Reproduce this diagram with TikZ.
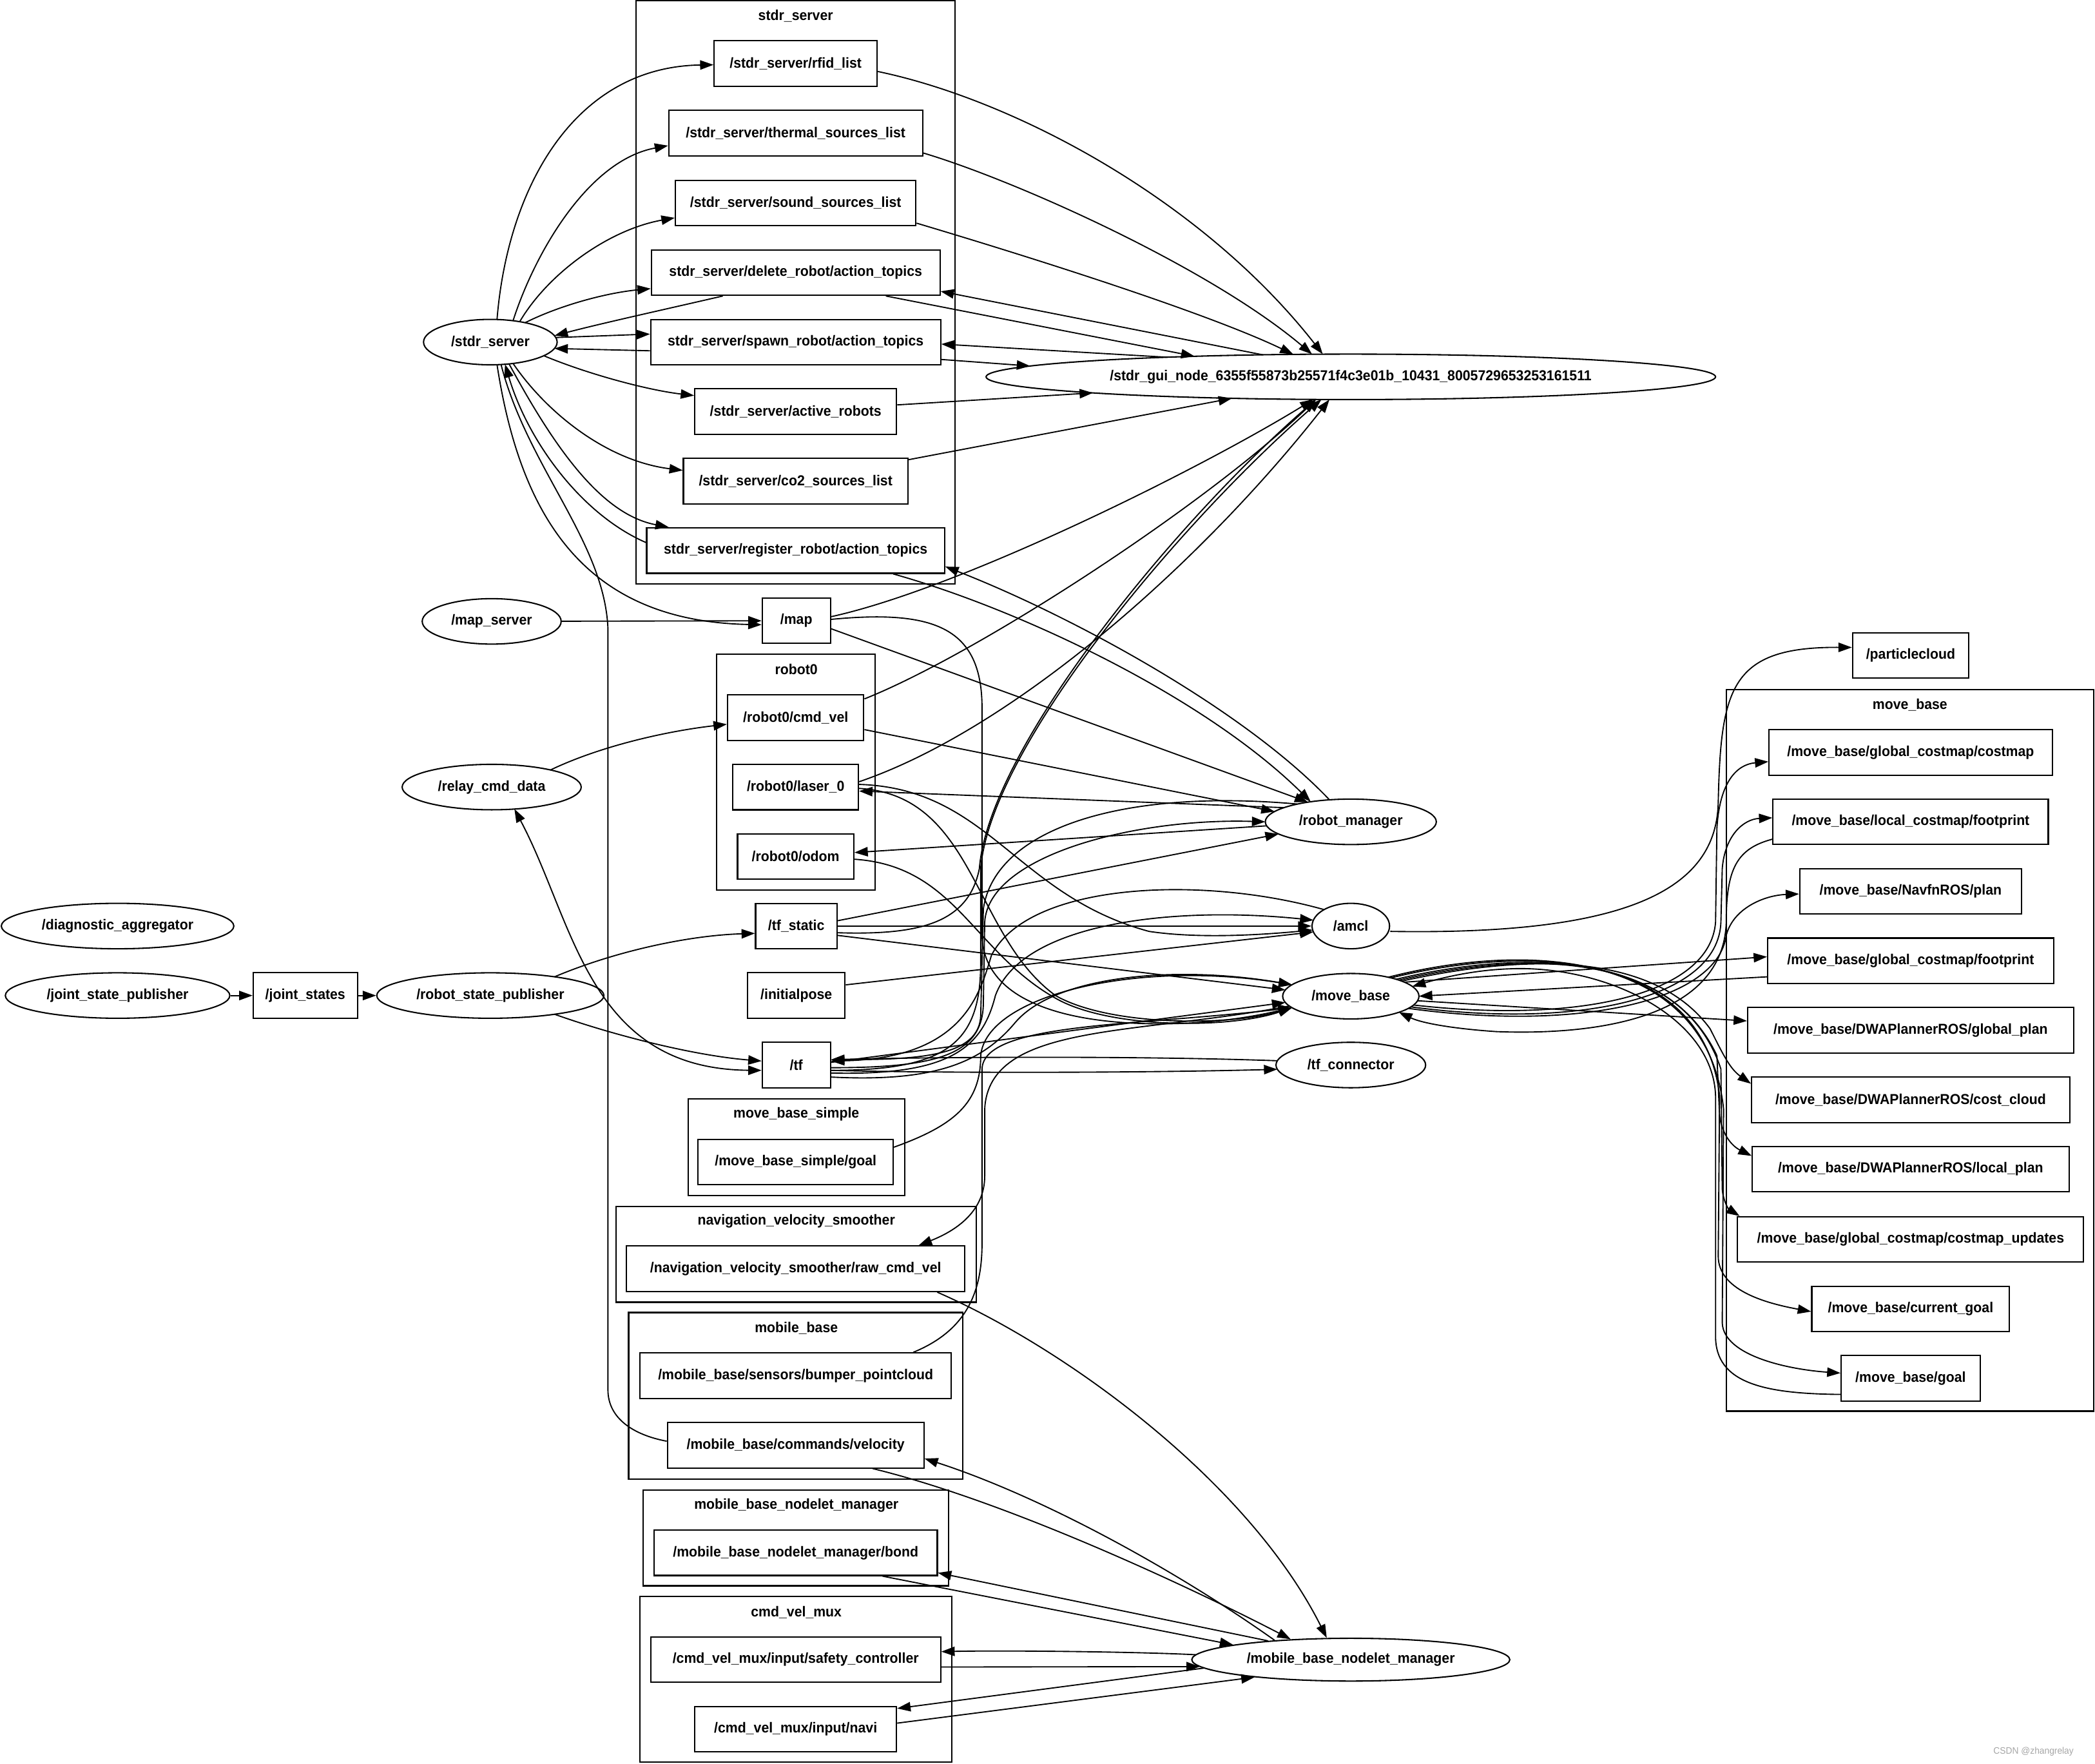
\documentclass[tikz,border=0pt]{standalone}
\usepackage{fontspec}
\setmainfont{Liberation Sans}[FakeStretch=0.95]
\usetikzlibrary{arrows.meta,shapes.geometric,calc}
\newcommand\gfont{\fontsize{10.8pt}{13pt}\selectfont\bfseries}
\tikzset{
  topic/.style={draw, rectangle, minimum height=34pt, inner sep=0pt, line width=1pt},
  rosnode/.style={draw, ellipse, minimum height=34pt, inner sep=0pt, line width=1pt},
  grp/.style={draw, rectangle, inner sep=0pt, line width=1pt},
  lbl/.style={inner sep=0pt},
  conn/.style={line width=0.9pt, -{Triangle[length=10pt,width=7pt]}},
  both/.style={line width=0.9pt, {Triangle[length=10pt,width=7pt]}-{Triangle[length=10pt,width=7pt]}},
  plain/.style={line width=0.9pt},
}
\begin{document}
\begin{tikzpicture}[x=1pt,y=-1pt,font=\gfont]
\useasboundingbox (0,0) rectangle (1568,1320);
\fill[white] (0,0) rectangle (1568,1320);

% ---------- clusters ----------
\node[grp, minimum width=239pt, minimum height=436.5pt] (clstdr) at (595.5,218.75) {};
\node[lbl] (lstdr) at (595.5,12) {stdr\_server};
\node[grp, minimum width=118.5pt, minimum height=176.5pt] (clrobot) at (595.75,577.75) {};
\node[lbl] (lrobot) at (596,501) {robot0};
\node[grp, minimum width=162pt, minimum height=72pt] (clmbs) at (596,858.5) {};
\node[lbl] (lmbs) at (596,834) {move\_base\_simple};
\node[grp, minimum width=269.5pt, minimum height=71.8pt] (clnvs) at (595.75,938.6) {};
\node[lbl] (lnvs) at (596,914) {navigation\_velocity\_smoother};
\node[grp, minimum width=250pt, minimum height=124.6pt] (clmob) at (595.5,1044.5) {};
\node[lbl] (lmob) at (596,994) {mobile\_base};
\node[grp, minimum width=228.8pt, minimum height=71.7pt] (clnlm) at (595.6,1150.85) {};
\node[lbl] (lnlm) at (596,1126.5) {mobile\_base\_nodelet\_manager};
\node[grp, minimum width=233.3pt, minimum height=123.8pt] (clmux) at (595.65,1256.6) {};
\node[lbl] (lmux) at (596,1206.5) {cmd\_vel\_mux};
\node[grp, minimum width=274.8pt, minimum height=540pt] (clmove) at (1429.6,786) {};
\node[lbl] (lmove) at (1429.5,527.5) {move\_base};

% ---------- ROS nodes (ellipses) ----------
\node[rosnode, minimum width=100pt] (stdr) at (367,256) {/stdr\_server};
\node[rosnode, minimum width=546pt] (gui) at (1011,282) {/stdr\_gui\_node\_6355f55873b25571f4c3e01b\_10431\_8005729653253161511};
\node[rosnode, minimum width=104pt] (mapsrv) at (368,465) {/map\_server};
\node[rosnode, minimum width=134pt] (relay) at (368,589) {/relay\_cmd\_data};
\node[rosnode, minimum width=128pt] (rm) at (1011,615) {/robot\_manager};
\node[rosnode, minimum width=174pt] (diag) at (88,693) {/diagnostic\_aggregator};
\node[rosnode, minimum width=58pt] (amcl) at (1011,693) {/amcl};
\node[rosnode, minimum width=168pt] (jsp) at (88,745) {/joint\_state\_publisher};
\node[rosnode, minimum width=170pt] (rsp) at (367,745) {/robot\_state\_publisher};
\node[rosnode, minimum width=102pt] (mb) at (1011,745.5) {/move\_base};
\node[rosnode, minimum width=112pt] (tfc) at (1011,797) {/tf\_connector};
\node[rosnode, minimum width=238pt, minimum height=32pt] (nm) at (1011,1242) {/mobile\_base\_nodelet\_manager};

% ---------- topics (boxes) ----------
\node[topic, minimum width=122pt] (rfid) at (595.5,47.5) {/stdr\_server/rfid\_list};
\node[topic, minimum width=190pt] (thermal) at (595.5,99.5) {/stdr\_server/thermal\_sources\_list};
\node[topic, minimum width=180pt] (sound) at (595.5,152) {/stdr\_server/sound\_sources\_list};
\node[topic, minimum width=216pt] (delete) at (595.5,204) {stdr\_server/delete\_robot/action\_topics};
\node[topic, minimum width=217pt] (spawn) at (595.5,256) {stdr\_server/spawn\_robot/action\_topics};
\node[topic, minimum width=151pt] (active) at (595.5,308) {/stdr\_server/active\_robots};
\node[topic, minimum width=168pt] (co2) at (595.5,360) {/stdr\_server/co2\_sources\_list};
\node[topic, minimum width=223pt] (register) at (595.5,412) {stdr\_server/register\_robot/action\_topics};
\node[topic, minimum width=51pt] (map) at (596,464.5) {/map};
\node[topic, minimum width=102pt] (cmdvel) at (595.5,537) {/robot0/cmd\_vel};
\node[topic, minimum width=94pt] (laser) at (595.5,589) {/robot0/laser\_0};
\node[topic, minimum width=87pt] (odom) at (595.5,641) {/robot0/odom};
\node[topic, minimum width=61pt] (tfstatic) at (596,693) {/tf\_static};
\node[topic, minimum width=73pt] (initpose) at (596,745) {/initialpose};
\node[topic, minimum width=51pt] (tf) at (596,797) {/tf};
\node[topic, minimum width=146pt] (msgoal) at (595.5,869.5) {/move\_base\_simple/goal};
\node[topic, minimum width=253pt] (raw) at (595.5,949.5) {/navigation\_velocity\_smoother/raw\_cmd\_vel};
\node[topic, minimum width=233pt] (bumper) at (595.5,1029.5) {/mobile\_base/sensors/bumper\_pointcloud};
\node[topic, minimum width=192pt] (velocity) at (595.5,1081.5) {/mobile\_base/commands/velocity};
\node[topic, minimum width=212pt] (bond) at (595.5,1162) {/mobile\_base\_nodelet\_manager/bond};
\node[topic, minimum width=217pt] (safety) at (595.5,1242) {/cmd\_vel\_mux/input/safety\_controller};
\node[topic, minimum width=151pt] (navi) at (595.5,1294) {/cmd\_vel\_mux/input/navi};
\node[topic, minimum width=78pt] (jstates) at (228.5,745) {/joint\_states};
\node[topic, minimum width=87pt] (pcloud) at (1430,490.5) {/particlecloud};
\node[topic, minimum width=212pt] (costmap) at (1430,563) {/move\_base/global\_costmap/costmap};
\node[topic, minimum width=206pt] (lfoot) at (1430,615) {/move\_base/local\_costmap/footprint};
\node[topic, minimum width=166pt] (navfn) at (1430,667) {/move\_base/NavfnROS/plan};
\node[topic, minimum width=214pt] (gfoot) at (1430,719) {/move\_base/global\_costmap/footprint};
\node[topic, minimum width=244pt] (gplan) at (1430,771) {/move\_base/DWAPlannerROS/global\_plan};
\node[topic, minimum width=238pt] (ccloud) at (1430,823) {/move\_base/DWAPlannerROS/cost\_cloud};
\node[topic, minimum width=237pt] (lplan) at (1430,875) {/move\_base/DWAPlannerROS/local\_plan};
\node[topic, minimum width=259pt] (cupd) at (1430,927.5) {/move\_base/global\_costmap/costmap\_updates};
\node[topic, minimum width=148pt] (curgoal) at (1430,979.5) {/move\_base/current\_goal};
\node[topic, minimum width=104pt] (mbgoal) at (1430,1031.5) {/move\_base/goal};

\node[text=black!35, font=\fontsize{7pt}{8pt}\selectfont] (wm) at (1522,1311) {CSDN @zhangrelay};

% ---------- stdr_server edges ----------
\draw[conn] ($(stdr)+(5,-17)$) .. controls (380,140) and (430,50) .. ($(rfid.west)+(0,1)$);
\draw[conn] ($(stdr)+(17,-16)$) .. controls (400,190) and (440,120) .. ($(thermal.west)+(0,9.5)$);
\draw[conn] ($(stdr)+(22,-15.3)$) .. controls (410,205) and (455,172) .. ($(sound.west)+(0,11)$);
\draw[conn] ($(stdr)+(26,-14.5)$) .. controls (420,228) and (455,219) .. ($(delete.west)+(0,12)$);
\draw[conn] ($(delete.south)+(-54.5,0)$) .. controls (500,231) and (450,242) .. ($(stdr)+(48,-4.8)$);
\draw[conn] ($(stdr)+(49,-3.4)$) -- ($(spawn.west)+(0,-6)$);
\draw[conn] ($(spawn.west)+(0,6.5)$) -- ($(stdr)+(48,4.8)$);
\draw[conn] ($(stdr)+(40,10.2)$) .. controls (440,280) and (485,292) .. ($(active.west)+(0,-12)$);
\draw[conn] ($(stdr)+(17,16)$) .. controls (410,310) and (455,345) .. ($(co2.west)+(0,-8)$);
\draw[conn] ($(stdr)+(14,16.3)$) .. controls (415,335) and (450,385) .. ($(register.north)+(-95,0)$);
\draw[conn] ($(register.west)+(0,-6)$) .. controls (435,385) and (395,330) .. ($(stdr)+(11,16.6)$);
\draw[conn] ($(stdr)+(5,16.9)$) .. controls (390,390) and (440,465) .. ($(map.west)+(0,3)$);
\draw[plain] ($(stdr)+(8,16.8)$) .. controls (395,350) and (452,405) .. (455,470) -- (455,1040) .. controls (455,1062) and (475,1074) .. ($(velocity.west)+(0,-3)$);
\draw[both] ($(relay)+(17,16.4)$) .. controls (430,690) and (440,800) .. ($(tf.west)+(0,4)$);
\draw[conn] (mapsrv) -- (map);

% ---------- gui edges ----------
\draw[conn] ($(rfid.east)+(0,6)$) .. controls (760,75) and (900,150) .. ($(gui)+(-21,-17)$);
\draw[conn] ($(thermal.east)+(0,15)$) .. controls (760,135) and (905,200) .. ($(gui)+(-29,-16.9)$);
\draw[conn] ($(sound.east)+(0,15)$) .. controls (780,195) and (905,235) .. ($(gui)+(-43,-16.8)$);
\draw[conn] ($(delete.south)+(67.5,0)$) -- ($(gui)+(-117,-15.4)$);
\draw[conn] ($(gui)+(-66,-16.5)$) -- ($(delete.east)+(0,14)$);
\draw[conn] ($(gui)+(-138,-14.7)$) -- ($(spawn.east)+(0,1.5)$);
\draw[conn] ($(spawn.east)+(0,13)$) -- ($(gui)+(-240,-8.1)$);
\draw[conn] ($(active.east)+(0,-5)$) -- ($(gui)+(-193,12)$);
\draw[conn] ($(co2.east)+(0,-16)$) -- ($(gui)+(-89,16.1)$);
\draw[conn] ($(map.east)+(0,-3)$) .. controls (720,440) and (900,350) .. ($(gui)+(-28,16.9)$);
\draw[conn] ($(cmdvel.east)+(0,-14)$) .. controls (730,490) and (900,380) .. ($(gui)+(-26,16.9)$);
\draw[conn] ($(laser.east)+(0,-4)$) .. controls (760,545) and (900,420) .. ($(gui)+(-16,17)$);
\draw[conn] ($(tfstatic.east)+(0,5)$) .. controls (690,700) and (725,690) .. (733,650) .. controls (740,560) and (880,390) .. ($(gui)+(-26,16.9)$);
\draw[conn] ($(tf.east)+(0,4)$) .. controls (710,801) and (734,780) .. (734,720) -- (734,650) .. controls (741,560) and (882,392) .. ($(gui)+(-22,16.9)$);

% ---------- robot_manager edges ----------
\draw[conn] ($(map.east)+(0,6)$) -- ($(rm)+(-32,-14.7)$);
\draw[conn] ($(register.south)+(73,0)$) .. controls (760,455) and (900,520) .. ($(rm)+(-30,-15)$);
\draw[conn] ($(rm)+(-16,-16.5)$) .. controls (930,530) and (800,460) .. ($(register.east)+(0,12)$);
\draw[conn] ($(cmdvel.east)+(0,9)$) -- ($(rm)+(-57,-7.7)$);
\draw[conn] ($(rm)+(-50,-10.6)$) -- ($(laser.east)+(0,3)$);
\draw[conn] ($(rm)+(-63,3)$) -- ($(odom.east)+(0,-3)$);
\draw[conn] ($(tfstatic.east)+(0,-4)$) -- ($(rm)+(-54,9.1)$);
\draw[conn] ($(rm)+(-40,-13.3)$) .. controls (840,590) and (745,620) .. (736,680) -- (734,760) .. controls (733,790) and (690,793) .. ($(tf.east)+(0,-4)$);
\draw[conn] ($(tf.east)+(0,2)$) .. controls (700,799) and (736,790) .. (736,750) -- (737,690) .. controls (740,640) and (850,612) .. ($(rm)+(-64,0)$);

% ---------- amcl edges ----------
\draw[conn] (tfstatic.east) -- (amcl.west);
\draw[conn] ($(initpose.east)+(0,-8)$) -- ($(amcl)+(-28,4.4)$);
\draw[conn] ($(laser.east)+(0,-2)$) .. controls (740,590) and (760,670) .. (860,697) .. controls (900,703) and (950,699) .. ($(amcl)+(-28.5,3)$);
\draw[conn] ($(tf.east)+(0,6)$) .. controls (710,805) and (735,785) .. (745,745) .. controls (765,690) and (880,678) .. ($(amcl)+(-28,-4.4)$);
\draw[conn] ($(amcl)+(-20,-12.3)$) .. controls (900,655) and (770,660) .. (742,715) .. controls (733,745) and (720,792) .. ($(tf.east)+(0,-3)$);
\draw[conn] ($(amcl.east)+(0,4)$) .. controls (1220,700) and (1285,665) .. (1286,600) .. controls (1288,515) and (1295,484) .. ($(pcloud.west)+(0,-6)$);

% ---------- move_base left edges ----------
\draw[conn] ($(tfstatic.east)+(0,7)$) -- ($(mb)+(-49,-4.7)$);
\draw[conn] ($(tf.east)+(0,-2)$) -- ($(mb)+(-49,4.7)$);
\draw[conn] ($(msgoal.east)+(0,-11)$) .. controls (715,842) and (734,825) .. (734,790) .. controls (738,745) and (850,718) .. ($(mb)+(-44,-8.6)$);
\draw[conn] ($(tf.east)+(0,9)$) .. controls (700,810) and (735,795) .. (760,765) .. controls (790,730) and (880,722) .. ($(mb)+(-44,-8.6)$);
\draw[conn] ($(laser.east)+(0,1)$) .. controls (730,595) and (728,700) .. (790,745) .. controls (830,768) and (920,768) .. ($(mb)+(-44,8.6)$);
\draw[conn] ($(odom.east)+(0,2)$) .. controls (715,648) and (728,712) .. (790,747) .. controls (830,770) and (920,770) .. ($(mb)+(-44,8.6)$);
\draw[conn] ($(map.east)+(0,-1)$) .. controls (700,456) and (735,470) .. (735,530) -- (735,700) .. controls (736,750) and (800,768) .. (880,766) .. controls (920,765) and (950,758) .. ($(mb)+(-44,8.6)$);
\draw[conn] ($(bumper.north)+(88,0)$) .. controls (725,995) and (735,965) .. (735,930) -- (735,800) .. controls (736,765) and (850,768) .. ($(mb)+(-44,8.6)$);
\draw[conn] ($(mb)+(-46,7.3)$) .. controls (850,775) and (740,765) .. (737,830) -- (737,880) .. controls (737,905) and (718,920) .. ($(raw.north)+(92,0)$);

% ---------- tf_connector ----------
\draw[conn] ($(tfc)+(-55,-3.2)$) .. controls (850,790) and (700,791) .. ($(tf.east)+(0,-4)$);
\draw[conn] ($(tf.east)+(0,4)$) .. controls (700,803) and (850,803) .. ($(tfc)+(-55,3.2)$);

% ---------- move_base right edges ----------
\draw[conn] ($(mb)+(40,-10.5)$) -- ($(gfoot.west)+(0,-3)$);
\draw[conn] ($(gfoot.west)+(0,12)$) -- ($(mb)+(51,0)$);
\draw[conn] ($(mb)+(50,3.4)$) -- ($(gplan.west)+(0,-7)$);
\draw[conn] ($(mb)+(47,6.6)$) .. controls (1180,766) and (1280,745) .. (1284,690) -- (1285,620) .. controls (1287,585) and (1300,572) .. ($(costmap.west)+(0,7)$);
\draw[conn] ($(mb)+(45,8)$) .. controls (1180,770) and (1286,748) .. (1288,690) -- (1289,650) .. controls (1291,625) and (1305,613) .. ($(lfoot.west)+(0,-3)$);
\draw[conn] ($(mb)+(43,9.1)$) .. controls (1180,772) and (1285,750) .. (1292,700) .. controls (1297,680) and (1320,670) .. ($(navfn.west)+(0,2)$);
\draw[conn] ($(lfoot.west)+(0,13)$) .. controls (1300,635) and (1292,650) .. (1292,690) .. controls (1290,760) and (1200,775) .. (1120,772) .. controls (1090,770) and (1065,766) .. ($(mb)+(36,12)$);
\draw[conn] ($(mb)+(38,-11.3)$) .. controls (1150,712) and (1240,715) .. (1280,770) .. controls (1290,790) and (1295,800) .. ($(ccloud.west)+(0,-12)$);
\draw[conn] ($(mb)+(36,-12)$) .. controls (1150,710) and (1250,715) .. (1285,790) -- (1287,835) .. controls (1289,850) and (1297,858) .. ($(lplan.west)+(0,-10)$);
\draw[conn] ($(mb)+(34,-12.7)$) .. controls (1150,708) and (1260,715) .. (1288,800) -- (1289,890) .. controls (1290,900) and (1294,905) .. ($(cupd.north west)+(2,0)$);
\draw[conn] ($(mb)+(30,-13.7)$) .. controls (1150,705) and (1275,715) .. (1287,820) -- (1286,940) .. controls (1286,965) and (1320,975) .. ($(curgoal.west)+(0,2)$);
\draw[conn] ($(mb)+(28,-14.2)$) .. controls (1150,703) and (1278,715) .. (1290,830) -- (1289,990) .. controls (1290,1015) and (1340,1025) .. ($(mbgoal.west)+(0,-4)$);
\draw[conn] ($(mbgoal.west)+(0,12)$) .. controls (1320,1043) and (1284,1035) .. (1284,1000) -- (1284,820) .. controls (1282,760) and (1200,722) .. (1130,725) .. controls (1100,726) and (1075,733) .. ($(mb)+(46,-7.3)$);

% ---------- bottom edges ----------
\draw[conn] ($(raw.south)+(106,0)$) .. controls (800,1010) and (935,1110) .. ($(nm)+(-18,-16.3)$);
\draw[conn] ($(velocity.south)+(57.7,0)$) .. controls (760,1125) and (905,1195) .. ($(nm)+(-45,-15.3)$);
\draw[conn] ($(nm)+(-57,-14.5)$) .. controls (880,1175) and (780,1120) .. ($(velocity.east)+(0,10)$);
\draw[conn] ($(nm)+(-62,-14.1)$) -- ($(bond.east)+(0,15)$);
\draw[conn] ($(bond.south)+(65,0)$) -- ($(nm)+(-88,-11.1)$);
\draw[conn] ($(nm)+(-116,-3.7)$) .. controls (850,1236) and (750,1235) .. ($(safety.east)+(0,-6)$);
\draw[conn] ($(safety.east)+(0,5.5)$) -- ($(nm)+(-113,5.2)$);
\draw[conn] ($(nm)+(-110,6.3)$) -- ($(navi.east)+(0,-15.5)$);
\draw[conn] ($(navi.east)+(0,-4.5)$) -- ($(nm)+(-72,13.1)$);

% ---------- left edges ----------
\draw[conn] (jsp) -- (jstates);
\draw[conn] (jstates) -- (rsp);
\draw[conn] ($(rsp)+(48,-14)$) .. controls (460,712) and (515,700) .. ($(tfstatic.west)+(0,5.5)$);
\draw[conn] ($(rsp)+(48,14)$) .. controls (460,775) and (520,790) .. ($(tf.west)+(0,-3)$);
\draw[conn] ($(relay)+(44,-12.8)$) .. controls (450,558) and (500,547) .. ($(cmdvel.west)+(0,5)$);
\end{tikzpicture}
\end{document}
